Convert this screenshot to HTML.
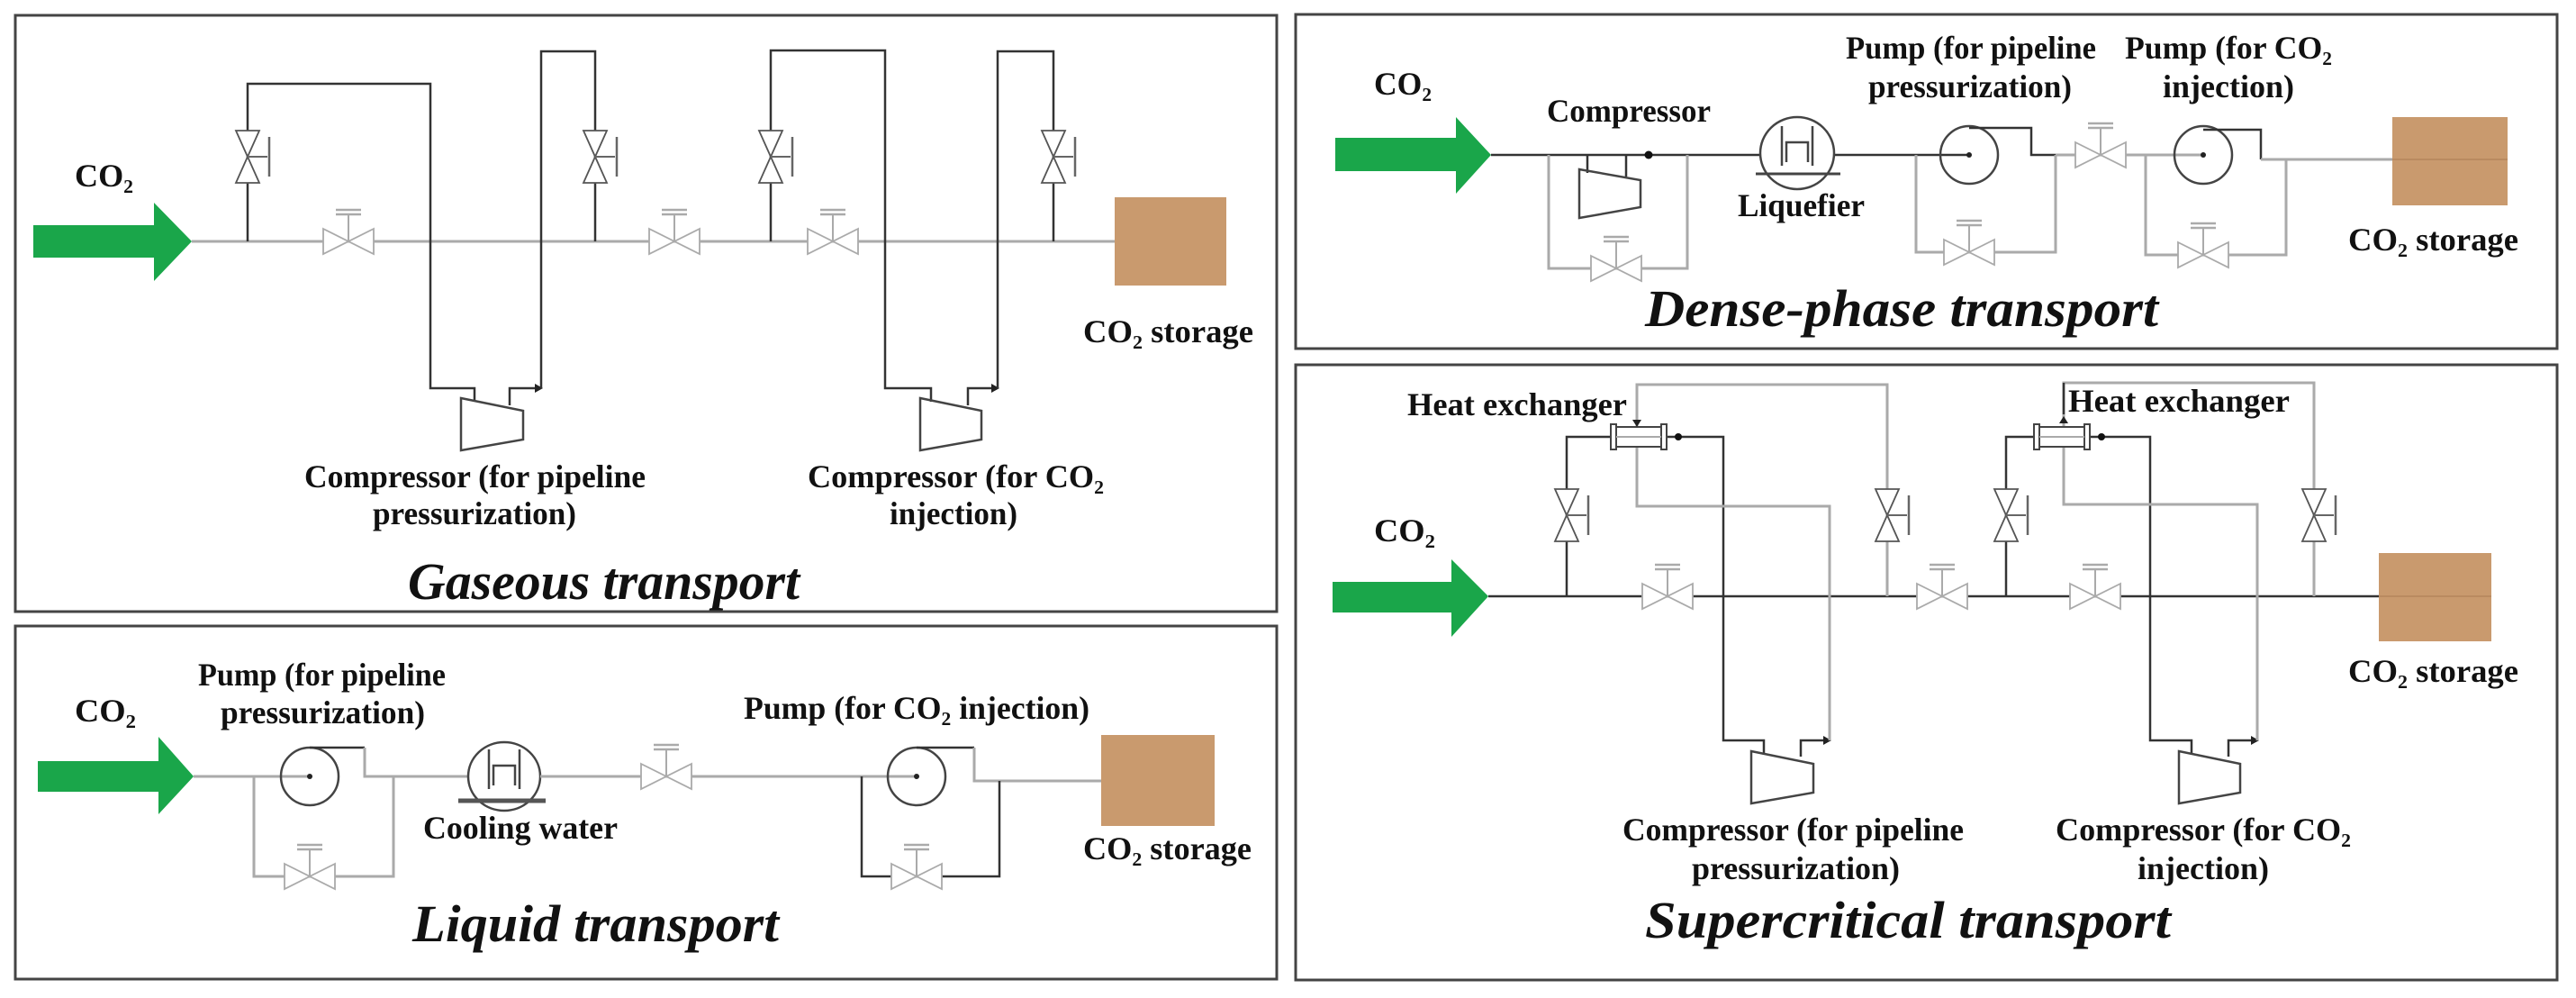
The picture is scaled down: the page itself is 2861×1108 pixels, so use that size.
<!DOCTYPE html>
<html><head><meta charset="utf-8"><style>
html,body{margin:0;padding:0;background:#fff;}
svg{display:block;}
text{font-family:"Liberation Serif",serif;font-weight:bold;fill:#111;}
.t{font-size:36px;}
.ti{font-size:58px;font-style:italic;}
.d{stroke:#333;stroke-width:2.5;fill:none;}
.g{stroke:#aaa;stroke-width:3;fill:none;}
.v{stroke:#aaa;stroke-width:1.8;fill:#fff;}
.vd{stroke:#555;stroke-width:1.8;fill:#fff;}
.p{stroke:#444;stroke-width:2.5;fill:none;}
</style></head><body>
<svg width="2861" height="1108" viewBox="0 0 2861 1108" xmlns="http://www.w3.org/2000/svg">
<defs>
<g id="hv"><path class="v" d="M-28,-14 L0,0 L-28,14 Z M28,-14 L0,0 L28,14 Z"/><line x1="0" y1="0" x2="0" y2="-30" stroke="#aaa" stroke-width="2"/><line x1="-14" y1="-30" x2="14" y2="-30" stroke="#aaa" stroke-width="2.5"/><line x1="-14" y1="-35" x2="14" y2="-35" stroke="#aaa" stroke-width="2.5"/></g>
<g id="vv"><path class="vd" d="M-13,-29 L0,0 L13,-29 Z M-13,29 L0,0 L13,29 Z"/><line x1="0" y1="0" x2="22" y2="0" stroke="#666" stroke-width="2"/><line x1="24" y1="-22" x2="24" y2="22" stroke="#666" stroke-width="2.5"/></g>
<g id="hx"><rect x="-31" y="-11" width="62" height="22" fill="#fff" stroke="#444" stroke-width="2"/><rect x="-31" y="-14" width="6" height="28" fill="#fff" stroke="#444" stroke-width="2"/><rect x="25" y="-14" width="6" height="28" fill="#fff" stroke="#444" stroke-width="2"/><line x1="-25" y1="0" x2="25" y2="0" stroke="#aaa" stroke-width="2"/></g>
</defs>

<!-- ===== Gaseous ===== -->
<rect x="17" y="17" width="1401" height="662" fill="none" stroke="#444" stroke-width="3"/>
<polygon points="37,250 171,250 171,225 213,268 171,312 171,286 37,286" fill="#1aa64a"/>
<line class="g" x1="213" y1="268" x2="1238" y2="268"/>
<rect x="1238" y="219" width="124" height="98" fill="#c99a6e"/>
<polyline class="d" points="275,268 275,93 478,93 478,431 527,431 527,446"/>
<polygon class="p" points="512,442 581,456 581,488 512,500" fill="#fff"/>
<polyline class="d" points="566,450 566,431 594,431"/>
<polygon points="594,426 603,431 594,436" fill="#222"/>
<polyline class="d" points="601,431 601,57 661,57 661,268"/>
<polyline class="d" points="856,268 856,56 983,56 983,431 1034,431 1034,446"/>
<polygon class="p" points="1022,442 1090,456 1090,488 1022,500" fill="#fff"/>
<polyline class="d" points="1075,450 1075,431 1101,431"/>
<polygon points="1101,426 1110,431 1101,436" fill="#222"/>
<polyline class="d" points="1108,431 1108,57 1170,57 1170,268"/>
<use href="#vv" x="275" y="174"/><use href="#vv" x="661" y="174"/>
<use href="#vv" x="856" y="174"/><use href="#vv" x="1170" y="174"/>
<use href="#hv" x="387" y="268"/><use href="#hv" x="749" y="268"/><use href="#hv" x="925" y="268"/>
<text class="t" x="83" y="207" textLength="65" lengthAdjust="spacingAndGlyphs">CO₂</text>
<text class="t" x="1203" y="380" textLength="189" lengthAdjust="spacingAndGlyphs">CO₂ storage</text>
<text class="t" x="338" y="541" textLength="379" lengthAdjust="spacingAndGlyphs">Compressor (for pipeline</text>
<text class="t" x="414" y="582" textLength="226" lengthAdjust="spacingAndGlyphs">pressurization)</text>
<text class="t" x="897" y="541" textLength="329" lengthAdjust="spacingAndGlyphs">Compressor (for CO₂</text>
<text class="t" x="988" y="582" textLength="142" lengthAdjust="spacingAndGlyphs">injection)</text>
<text class="ti" x="453" y="665" textLength="435" lengthAdjust="spacingAndGlyphs">Gaseous transport</text>

<!-- ===== Liquid ===== -->
<rect x="17" y="695" width="1401" height="392" fill="none" stroke="#444" stroke-width="3"/>
<polygon points="42,845 176,845 176,818 215,862 176,904 176,879 42,879" fill="#1aa64a"/>
<line class="g" x1="215" y1="862" x2="344" y2="862"/>
<circle cx="344" cy="862" r="32" class="p" fill="none"/>
<circle cx="344" cy="862" r="3" fill="#222"/>
<polyline class="d" points="344,830 405,830"/>
<polyline class="g" points="405,830 405,862 520,862"/>
<polyline class="g" points="282,862 282,973 437,973 437,862"/>
<use href="#hv" x="344" y="973"/>
<ellipse cx="560" cy="862" rx="40" ry="38" class="p"/>
<path class="p" d="M543,832 L543,876 M577,832 L577,876 M548,872 L548,850 L572,850 L572,872" stroke-width="2"/>
<line x1="509" y1="889" x2="606" y2="889" stroke="#555" stroke-width="5"/>
<line class="g" x1="600" y1="862" x2="1018" y2="862"/>
<use href="#hv" x="740" y="862"/>
<circle cx="1018" cy="862" r="32" class="p"/>
<circle cx="1018" cy="862" r="3" fill="#222"/>
<polyline class="d" points="1018,830 1082,830"/>
<polyline class="g" points="1082,830 1082,867 1223,867"/>
<polyline class="d" points="957,862 957,973 1110,973 1110,867"/>
<use href="#hv" x="1018" y="973"/>
<rect x="1223" y="816" width="126" height="101" fill="#c99a6e"/>
<text class="t" x="83" y="801" textLength="68" lengthAdjust="spacingAndGlyphs">CO₂</text>
<text class="t" x="220" y="761" textLength="275" lengthAdjust="spacingAndGlyphs">Pump (for pipeline</text>
<text class="t" x="245" y="803" textLength="227" lengthAdjust="spacingAndGlyphs">pressurization)</text>
<text class="t" x="470" y="931" textLength="216" lengthAdjust="spacingAndGlyphs">Cooling water</text>
<text class="t" x="826" y="798" textLength="384" lengthAdjust="spacingAndGlyphs">Pump (for CO₂ injection)</text>
<text class="t" x="1203" y="954" textLength="187" lengthAdjust="spacingAndGlyphs">CO₂ storage</text>
<text class="ti" x="458" y="1045" textLength="407" lengthAdjust="spacingAndGlyphs">Liquid transport</text>

<!-- ===== Dense-phase ===== -->
<rect x="1439" y="16" width="1401" height="371" fill="none" stroke="#444" stroke-width="3"/>
<polygon points="1483,153 1617,153 1617,130 1656,172 1617,215 1617,190 1483,190" fill="#1aa64a"/>
<line class="d" x1="1656" y1="172" x2="1955" y2="172" stroke-width="3"/>
<line class="d" x1="2037" y1="172" x2="2187" y2="172" stroke-width="3"/>
<polyline class="g" points="1720,172 1720,298 1874,298 1874,172"/>
<use href="#hv" x="1795" y="298"/>
<line class="d" x1="1763" y1="172" x2="1763" y2="192"/>
<polygon class="p" points="1754,188 1822,200 1822,230 1754,242" fill="#fff"/>
<line class="d" x1="1806" y1="196" x2="1806" y2="172"/>
<circle cx="1831" cy="172" r="4.5" fill="#111"/>
<ellipse cx="1996" cy="170" rx="41" ry="40" class="p" fill="#fff"/>
<path class="p" d="M1979,140 L1979,184 M2013,140 L2013,184 M1984,180 L1984,158 L2008,158 L2008,180" stroke-width="2"/>
<line x1="1950" y1="193" x2="2044" y2="193" stroke="#444" stroke-width="3"/>
<circle cx="2187" cy="172" r="32" class="p"/>
<circle cx="2187" cy="172" r="3" fill="#222"/>
<polyline class="d" points="2187,142 2256,142 2256,172 2283,172"/>
<polyline class="g" points="2283,172 2447,172"/>
<polyline class="g" points="2128,172 2128,280 2283,280 2283,172"/>
<use href="#hv" x="2187" y="280"/>
<use href="#hv" x="2333" y="172"/>
<circle cx="2447" cy="172" r="32" class="p"/>
<circle cx="2447" cy="172" r="3" fill="#222"/>
<polyline class="d" points="2447,144 2511,144 2511,177"/>
<line class="g" x1="2511" y1="177" x2="2785" y2="177"/>
<polyline class="g" points="2383,172 2383,283 2539,283 2539,177"/>
<use href="#hv" x="2447" y="283"/>
<rect x="2657" y="130" width="128" height="98" fill="#c99a6e"/>
<line x1="2657" y1="177" x2="2785" y2="177" stroke="#b98a60" stroke-width="2"/>
<text class="t" x="1526" y="105" textLength="64" lengthAdjust="spacingAndGlyphs">CO₂</text>
<text class="t" x="1718" y="135" textLength="182" lengthAdjust="spacingAndGlyphs">Compressor</text>
<text class="t" x="1930" y="240" textLength="141" lengthAdjust="spacingAndGlyphs">Liquefier</text>
<text class="t" x="2050" y="65" textLength="278" lengthAdjust="spacingAndGlyphs">Pump (for pipeline</text>
<text class="t" x="2075" y="108" textLength="226" lengthAdjust="spacingAndGlyphs">pressurization)</text>
<text class="t" x="2360" y="65" textLength="230" lengthAdjust="spacingAndGlyphs">Pump (for CO₂</text>
<text class="t" x="2402" y="108" textLength="146" lengthAdjust="spacingAndGlyphs">injection)</text>
<text class="t" x="2608" y="278" textLength="189" lengthAdjust="spacingAndGlyphs">CO₂ storage</text>
<text class="ti" x="1827" y="362" textLength="570" lengthAdjust="spacingAndGlyphs">Dense-phase transport</text>

<!-- ===== Supercritical ===== -->
<rect x="1439" y="405" width="1401" height="683" fill="none" stroke="#444" stroke-width="3"/>
<polygon points="1480,646 1612,646 1612,621 1653,662 1612,707 1612,680 1480,680" fill="#1aa64a"/>
<line class="d" x1="1653" y1="662" x2="2642" y2="662"/>
<polyline class="d" points="1740,662 1740,485 1789,485"/>
<polyline class="d" points="1851,485 1914,485 1914,822 1959,822 1959,838"/>
<circle cx="1864" cy="485" r="4" fill="#111"/>
<polygon class="p" points="1945,834 2014,848 2014,880 1945,892" fill="#fff"/>
<polyline class="d" points="2000,840 2000,822 2025,822"/>
<polygon points="2025,817 2034,822 2025,827" fill="#222"/>
<polyline class="g" points="2032,822 2032,562 1818,562 1818,427 2096,427 2096,662" stroke-width="2.5"/>
<use href="#hx" x="1820" y="485"/>
<polygon points="1813,466 1818,474 1823,466" fill="#222"/>
<polyline class="d" points="2228,662 2228,485 2259,485"/>
<polyline class="d" points="2321,485 2388,485 2388,822 2434,822 2434,838"/>
<circle cx="2334" cy="485" r="4" fill="#111"/>
<polygon class="p" points="2420,834 2488,848 2488,880 2420,892" fill="#fff"/>
<polyline class="d" points="2475,840 2475,822 2500,822"/>
<polygon points="2500,817 2509,822 2500,827" fill="#222"/>
<polyline class="g" points="2507,822 2507,560 2292,560 2292,425 2570,425 2570,662" stroke-width="2.5"/>
<polyline class="d" points="2292,460 2292,425" />
<use href="#hx" x="2290" y="485"/>
<polygon points="2287,470 2292,462 2297,470" fill="#222"/>
<use href="#vv" x="1740" y="572"/><use href="#vv" x="2096" y="572"/>
<use href="#vv" x="2228" y="572"/><use href="#vv" x="2570" y="572"/>
<use href="#hv" x="1852" y="662"/><use href="#hv" x="2157" y="662"/><use href="#hv" x="2327" y="662"/>
<rect x="2642" y="614" width="125" height="98" fill="#c99a6e"/>
<line x1="2642" y1="662" x2="2767" y2="662" stroke="#b98a60" stroke-width="2"/>
<text class="t" x="1526" y="601" textLength="68" lengthAdjust="spacingAndGlyphs">CO₂</text>
<text class="t" x="1563" y="461" textLength="244" lengthAdjust="spacingAndGlyphs">Heat exchanger</text>
<text class="t" x="2297" y="457" textLength="246" lengthAdjust="spacingAndGlyphs">Heat exchanger</text>
<text class="t" x="1802" y="933" textLength="379" lengthAdjust="spacingAndGlyphs">Compressor (for pipeline</text>
<text class="t" x="1879" y="976" textLength="231" lengthAdjust="spacingAndGlyphs">pressurization)</text>
<text class="t" x="2283" y="933" textLength="328" lengthAdjust="spacingAndGlyphs">Compressor (for CO₂</text>
<text class="t" x="2374" y="976" textLength="146" lengthAdjust="spacingAndGlyphs">injection)</text>
<text class="t" x="2608" y="757" textLength="189" lengthAdjust="spacingAndGlyphs">CO₂ storage</text>
<text class="ti" x="1827" y="1041" textLength="584" lengthAdjust="spacingAndGlyphs">Supercritical transport</text>
</svg>
</body></html>
